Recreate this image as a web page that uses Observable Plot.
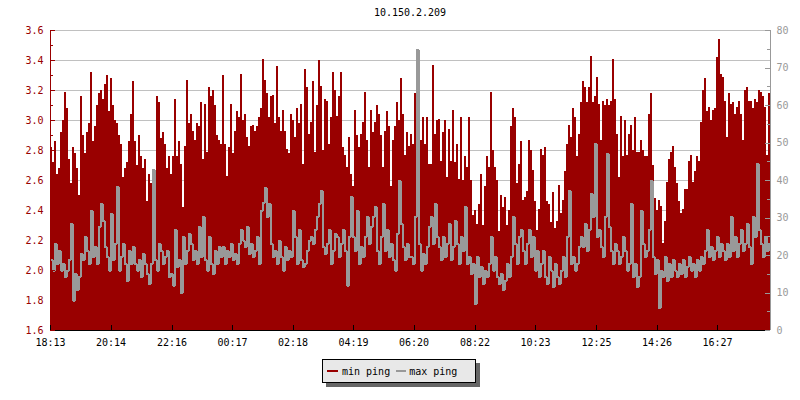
<!DOCTYPE html>
<html>
<head>
<meta charset="utf-8">
<script src="https://cdn.jsdelivr.net/npm/d3@7"></script>
<script src="https://cdn.jsdelivr.net/npm/@observablehq/plot@0.6"></script>
<style>
  html, body { margin: 0; padding: 0; background: #fff; }
  body { font-family: "DejaVu Sans Mono", monospace; width: 800px; height: 400px; overflow: hidden; }
  #title { margin-left: 50px; width: 720px; height: 24px; line-height: 26px; text-align: center; font-size: 10px; color: #000; }
  #chart svg { display: block; }
  #legend { margin-left: 322px; margin-top: 9px; width: 152px; height: 22px; border: 1px solid #000; background: #e8e8e8;
            box-shadow: 4px 4px 0 #666; display: flex; align-items: center; font-size: 10px; color: #000; }
  #legend .sw { display: inline-block; height: 2px; }
</style>
</head>
<body>
<div id="title"></div>
<div id="chart"></div>
<div id="legend"></div>
<script>
const chartTitle = "10.150.2.209";
const seriesNames = ["min ping", "max ping"];
const seriesColors = ["#990000", "#999999"];
const startLabel = "18:13";
const tickLabels = ["18:13","20:14","22:16","00:17","02:18","04:19","06:20","08:22","10:23","12:25","14:26","16:27"];
const leftTicks = [1.6,1.8,2.0,2.2,2.4,2.6,2.8,3.0,3.2,3.4,3.6];
const leftMinor = [1.7,1.9,2.1,2.3,2.5,2.7,2.9,3.1,3.3,3.5];
const rightTicks = [0,10,20,30,40,50,60,70,80];
const rightMinor = [5,15,25,35,45,55,65,75];
const spanMinutes = 1440;

// min ping (ms, left axis), one value per 4 minutes
const minPing = [
2.82,2.72,2.86,2.64,2.68,2.92,3.0,3.19,3.08,2.74,2.58,2.82,2.78,2.68,2.5,3.16,2.9,2.78,2.92,2.98,3.32,2.86,2.96,3.1,3.18,3.2,3.14,3.24,3.3,3.06,3.28,3.1,3.0,2.98,2.9,2.84,2.62,2.68,2.72,2.86,3.04,3.26,2.86,2.7,2.9,2.76,2.68,2.74,2.46,2.64,2.58,2.48,2.62,3.16,3.12,2.88,2.92,2.84,2.68,2.76,
2.64,2.76,3.14,2.76,2.86,2.71,2.42,2.83,3.27,2.98,3.04,2.93,2.87,2.98,2.96,3.12,2.74,3.11,2.79,3.22,3.16,3.2,3.1,2.9,2.87,2.84,3.3,2.84,2.63,2.82,3.11,2.78,2.93,3.06,3.02,3.31,3.0,3.04,2.89,2.83,2.96,2.97,2.93,2.96,3.02,3.08,3.41,3.27,3.18,3.02,3.16,3.17,2.98,3.36,3.02,2.93,3.07,2.93,2.81,2.78,
3.04,3.0,2.89,3.08,2.98,3.11,2.71,3.34,3.22,2.91,2.99,3.26,2.79,3.1,3.4,3.23,2.8,3.14,3.13,2.84,3.02,3.32,3.2,3.03,3.16,3.32,2.82,2.77,2.69,2.89,2.64,2.56,3.07,2.9,2.82,2.91,2.99,3.19,2.87,2.69,3.07,2.92,2.99,3.1,3.04,2.9,2.69,2.93,3.06,2.96,2.56,2.87,2.96,3.12,3.0,3.28,3.04,2.77,2.92,2.83,
2.91,2.84,3.18,3.16,2.96,2.87,3.02,2.84,3.02,2.71,2.71,3.37,2.91,3.0,3.01,2.73,2.92,3.0,2.62,2.94,2.73,3.07,2.72,2.84,2.61,3.02,2.6,2.76,2.69,3.02,2.6,2.37,2.4,2.31,2.44,2.64,2.3,2.56,2.76,2.69,3.19,2.8,2.69,2.6,2.26,2.5,2.42,2.49,2.3,2.4,2.96,3.08,3.02,2.58,2.71,2.86,2.47,2.49,2.53,2.87,
2.8,2.67,2.46,2.27,2.41,2.81,2.77,2.82,2.46,2.44,2.32,2.52,2.28,2.33,2.57,2.38,2.47,2.66,2.84,2.97,2.89,3.08,3.02,2.76,2.91,3.12,3.26,3.22,3.12,3.22,3.43,3.12,3.16,3.29,3.11,2.87,3.13,3.1,3.14,3.1,3.13,3.41,3.14,2.91,2.62,3.03,2.76,3.0,2.77,2.91,2.97,2.8,3.02,2.79,2.79,2.87,2.8,2.76,2.76,3.04,
3.18,2.7,2.48,2.4,2.47,2.43,2.18,2.33,2.59,2.74,2.79,2.83,2.69,2.58,2.46,2.38,2.41,2.54,2.54,2.73,2.77,2.59,2.66,2.76,2.73,2.99,3.2,3.28,3.06,3.09,3.0,3.07,3.08,3.42,3.54,3.31,3.29,3.13,2.89,3.18,3.11,3.12,3.04,3.09,3.13,3.04,2.87,3.2,3.22,3.13,3.13,3.08,3.14,3.12,3.2,3.19,3.16,3.09,2.77,3.18
];

// max ping (ms, right axis)
const maxPing = [
18.7,16,23,17.8,21.3,16,17.8,14.2,16,18.7,28.4,8,15,10.7,14.2,20.4,18.7,24.9,21.3,17.8,32,19.6,22.2,17.8,27.6,33.8,29.3,22.2,19.6,16,31.1,18.7,23.1,38.2,16,19.6,23.1,17.8,13.3,21.3,17.8,22.2,17.8,16,18.7,14.2,20.4,17.8,15,12.4,17.8,42.7,18.7,16,23.1,21.3,17.8,19.6,21.3,14.2,
15.1,12,26.7,16.9,18.7,10,24.9,17.8,21.3,25.8,23.1,18.7,21.3,17.8,27.6,19.6,30.2,18.7,16,24.9,17.8,15.1,21.3,17.8,22.2,19.6,22.2,17.8,21.3,19.6,23.1,18.7,20.4,17.8,23.1,26.7,24,22.2,27.6,20.4,23.1,19.6,21.3,24.9,17.8,32,34,38,30.2,33.8,23.1,19.6,21.3,17.8,24,19.6,16,22.2,18.7,21.3,
19.6,32,24.9,17.8,26.7,18.7,16.9,17.8,21.3,24,24.9,23.1,26.7,30.2,33.8,37.3,22.2,20.4,23.1,26.7,17.8,21.3,25.8,24.9,19.6,23.1,26.7,21.3,12,24.9,35.6,24.9,21.3,32,17.8,22.2,19.6,24.9,30.2,23.1,27.6,30.2,32.9,21.3,17.8,24.9,33.8,21.3,26.7,19.6,23.1,18.7,16,25.8,40,28.4,22.2,18.7,23.1,19.6,
19.6,17.8,30.2,74.7,23.1,16,20.4,17.8,22.2,27.6,30.2,23.1,33.8,24.9,22.2,18.7,24.9,19.6,23.1,28.4,18.7,22.2,29.3,23.1,17.8,24.9,21.3,32.9,17.8,19.6,15.1,17.8,7,19.6,14.2,16.9,12.4,16,14.2,17.8,24.9,16,19.6,14.2,12.4,15.1,10.7,13.3,17.8,14.2,19.6,30.2,23.1,17.8,24.9,26.7,21.3,17.8,23.1,26.7,
19.6,24.9,16,21.3,14.2,17.8,21.3,14.2,12.4,19.6,16,11.6,17.8,14.2,12.4,16,19.6,14.2,24.9,37.3,17.8,19.6,16,17.8,22.2,24.9,22.2,28.4,21.3,26.7,36.4,30.2,49.8,24.9,26.7,22.2,19.6,30.2,47.1,27.6,21.3,17.8,23.1,21.3,17.8,19.6,24.9,21.3,16,17.8,33.8,14.2,17.8,11.6,14.2,32,23.1,19.6,21.3,26.7,
40,19.6,15.1,18.7,6,16,14.2,19.6,13.3,17.8,14.2,18.7,16,14.2,17.8,15.1,18.7,14.2,16.9,19.6,16,17.8,14.2,18.7,16,19.6,17.8,21.3,26.7,19.6,22.2,18.7,21.3,24.9,19.6,23.1,21.3,18.7,23.1,19.6,30.2,21.3,24.9,19.6,23.1,26.7,21.3,23.1,28.4,22.2,17.8,30.2,24.9,44.4,26.7,23.1,19.6,24.9,21.3,23.1
];

const yMin = leftTicks[0], yMax = leftTicks[leftTicks.length - 1];
const rightMax = rightTicks[rightTicks.length - 1];
const toLeft = g => yMin + g * (yMax - yMin) / rightMax;

const N = minPing.length;
const stepMin = spanMinutes / N;
const rows = minPing.map((v, i) => ({t: i * stepMin, min: v, max: maxPing[i]}));
rows.push({t: spanMinutes, min: minPing[N - 1], max: maxPing[N - 1]});

const toMin = s => { const [h, m] = s.split(":").map(Number); return h * 60 + m; };
const start = toMin(startLabel);
const tickMinutes = tickLabels.map(s => { let d = toMin(s) - start; if (d < 0) d += 1440; return d; });
const labelOf = new Map(tickMinutes.map((m, i) => [m, tickLabels[i]]));

document.getElementById("title").textContent = chartTitle;

const chart = Plot.plot({
  width: 800,
  height: 326,
  marginTop: 6,
  marginBottom: 20,
  marginLeft: 50,
  marginRight: 30,
  style: {fontFamily: "DejaVu Sans Mono", fontSize: "10px", background: "white", color: "black", overflow: "visible"},
  x: {domain: [0, spanMinutes]},
  y: {domain: [yMin, yMax]},
  marks: [
    Plot.ruleY(leftTicks, {stroke: "#c0c0c0", strokeWidth: 1, shapeRendering: "crispEdges"}),
    Plot.area(rows, {x1: "t", y1: yMin, y2: "min", curve: "step-after", fill: seriesColors[0], shapeRendering: "crispEdges"}),
    Plot.line(rows, {x: "t", y: d => toLeft(d.max), curve: "step-after", stroke: seriesColors[1], strokeWidth: 2, shapeRendering: "crispEdges"}),
    Plot.ruleX([0], {stroke: "#990000", shapeRendering: "crispEdges"}),
    Plot.ruleX([spanMinutes], {stroke: "#999999", shapeRendering: "crispEdges"}),
    Plot.ruleY([yMin], {stroke: "black", shapeRendering: "crispEdges"}),
    Plot.tickY(leftTicks, {y: d => d, stroke: "#990000", insetRight: 715, shapeRendering: "crispEdges"}),
    Plot.tickY(leftMinor, {y: d => d, stroke: "#990000", insetRight: 717, shapeRendering: "crispEdges"}),
    Plot.tickY(rightTicks, {y: d => toLeft(d), stroke: "#999999", insetLeft: 715, shapeRendering: "crispEdges"}),
    Plot.tickY(rightMinor, {y: d => toLeft(d), stroke: "#999999", insetLeft: 717, shapeRendering: "crispEdges"}),
    Plot.tickX(tickMinutes, {x: d => d, stroke: "black", insetTop: 295, shapeRendering: "crispEdges"}),
    Plot.axisY({ticks: leftTicks, tickSize: 0, tickPadding: 7, tickFormat: d3.format(".1f"), color: "#990000", label: null}),
    Plot.axisY({anchor: "right", ticks: rightTicks.map(toLeft), tickSize: 0, tickPadding: 6,
                tickFormat: d => String(Math.round((d - yMin) * rightMax / (yMax - yMin))), color: "#999999", label: null}),
    Plot.axisX({ticks: tickMinutes, tickSize: 0, tickPadding: 8, tickFormat: d => labelOf.get(d) ?? "", label: null})
  ]
});
document.getElementById("chart").appendChild(chart);

const legend = document.getElementById("legend");
const layout = [[4, 11, 4], [6, 10, 3]];
seriesNames.forEach((name, i) => {
  const sw = document.createElement("span");
  sw.className = "sw";
  sw.style.background = seriesColors[i];
  sw.style.marginLeft = layout[i][0] + "px";
  sw.style.width = layout[i][1] + "px";
  const tx = document.createElement("span");
  tx.textContent = name;
  tx.style.marginLeft = layout[i][2] + "px";
  legend.appendChild(sw);
  legend.appendChild(tx);
});
</script>
</body>
</html>
